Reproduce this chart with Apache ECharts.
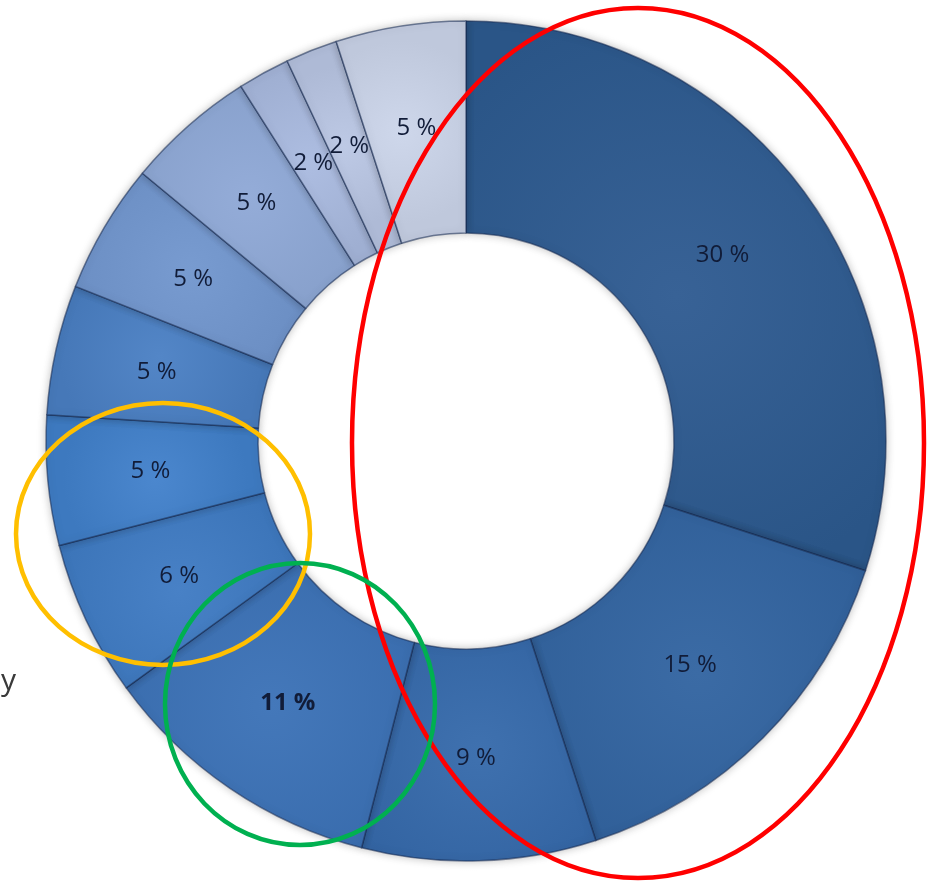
<!DOCTYPE html>
<html>
<head>
<meta charset="utf-8">
<script src="https://cdn.jsdelivr.net/npm/echarts@6/dist/echarts.min.js"></script>
<style>
html,body{margin:0;padding:0;background:#fff;}
#chart{width:932px;height:882px;}
</style>
</head>
<body>
<div id="chart"></div>
<script>
// Data (clockwise from 12 o'clock)
const categories = ['A','B','C','D','E','F','G','H','I','J','K','L'];
const values = [30, 15, 9, 11, 6, 5, 5, 5, 5, 2, 2, 5];
const labels = ['30 %','15 %','9 %','11 %','6 %','5 %','5 %','5 %','5 %','2 %','2 %','5 %'];
const colors = ['#2d5a90','#3163a0','#3569ab','#3a71b6','#3e7ac3','#4181cb','#4a80c4','#7196ce','#8ea8d6','#a9badf','#b9c6e4','#cbd5ea'];

const chart = echarts.init(document.getElementById('chart'), null, {renderer:'canvas'});

function shade(hex, f){
  const n = parseInt(hex.slice(1),16);
  let r=(n>>16)&255,g=(n>>8)&255,b=n&255;
  const m = c => Math.max(0,Math.min(255,Math.round(f>0? c+(255-c)*f : c*(1+f))));
  return 'rgb('+m(r)+','+m(g)+','+m(b)+')';
}

const data = categories.map((c,i)=>({
  name:c,
  value:values[i],
  label:{formatter:labels[i], fontWeight: labels[i]==='11 %' ? 'bold':'normal'},
  itemStyle:{
    color:{type:'radial', x:0.5, y:0.5, r:0.7, colorStops:[
      {offset:0, color:shade(colors[i],0.05)},
      {offset:1, color:shade(colors[i],-0.06)}
    ]}
  }
}));

chart.setOption({
  animation:false,
  backgroundColor:'#ffffff',
  series:[{
    type:'pie',
    z:2,
    center:[466,441],
    radius:[208,420],
    startAngle:90,
    clockwise:true,
    avoidLabelOverlap:false,
    labelLayout:{hideOverlap:false},
    minShowLabelAngle:0,
    silent:true,
    itemStyle:{
      borderColor:'rgba(20,40,80,0.55)',
      borderWidth:1.5,
      shadowBlur:8,
      shadowColor:'rgba(0,0,0,0.25)'
    },
    label:{
      show:true,
      position:'inside',
      color:'#111c38',
      fontSize:24,
      fontFamily:'Open Sans, Liberation Sans, sans-serif'
    },
    labelLine:{show:false},
    data:data
  }],
  graphic:[
    {type:'text', z:100, left:1, top:666, style:{text:'y', fontSize:30, fill:'#3a3a3a', fontFamily:'Open Sans, sans-serif'}},
    {type:'ellipse', z:100, shape:{cx:638, cy:443, rx:286, ry:435}, style:{fill:null, stroke:'#ff0000', lineWidth:4.5}},
    {type:'ellipse', z:100, shape:{cx:163, cy:534, rx:147, ry:131}, style:{fill:null, stroke:'#ffbf00', lineWidth:4.5}},
    {type:'ellipse', z:100, shape:{cx:300, cy:704, rx:135, ry:141}, style:{fill:null, stroke:'#00b050', lineWidth:4.5}}
  ]
});
</script>
</body>
</html>
